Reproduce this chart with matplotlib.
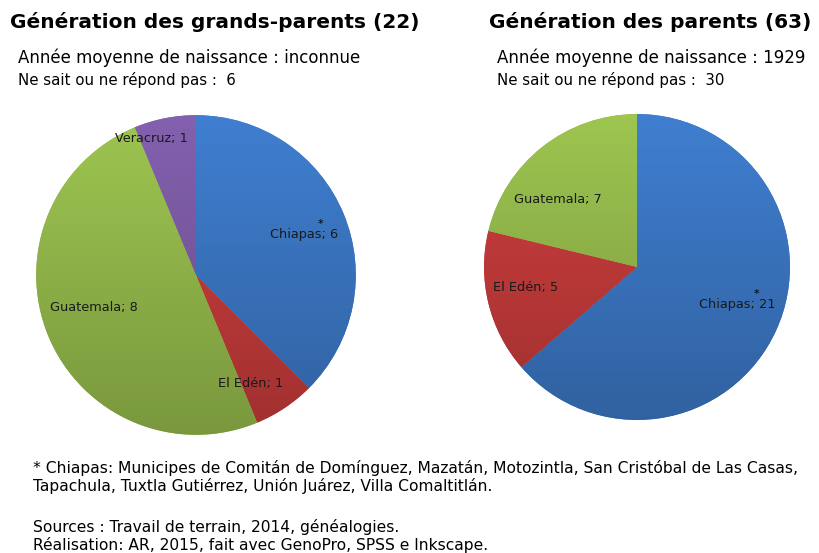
import matplotlib
matplotlib.use("Agg")
import matplotlib.pyplot as plt
import numpy as np
from matplotlib.colors import to_rgb

# Données
lieux_gp = ["Chiapas", "El Edén", "Guatemala", "Veracruz"]
valeurs_gp = [6, 1, 8, 1]
lieux_p = ["Chiapas", "El Edén", "Guatemala"]
valeurs_p = [21, 5, 7]

titre_gp = "Génération des grands-parents (22)"
titre_p = "Génération des parents (63)"
annee_gp = "Année moyenne de naissance : inconnue"
annee_p = "Année moyenne de naissance : 1929"
nsp_gp = "Ne sait ou ne répond pas :  6"
nsp_p = "Ne sait ou ne répond pas :  30"

note = ("* Chiapas: Municipes de Comitán de Domínguez, Mazatán, Motozintla, San Cristóbal de Las Casas,\n"
        "Tapachula, Tuxtla Gutiérrez, Unión Juárez, Villa Comaltitlán.")
sources = ("Sources : Travail de terrain, 2014, généalogies.\n"
           "Réalisation: AR, 2015, fait avec GenoPro, SPSS e Inkscape.")

couleurs = {"Chiapas": "#3b76c2", "El Edén": "#c23b3a",
            "Guatemala": "#93b84b", "Veracruz": "#7b5aa3"}

# position des étiquettes : fraction du rayon, décalage d'angle (degrés)
dist_gp = [0.72, 0.76, 0.67, 0.90]
decal_gp = [-2, -7, -5, 7]
dist_p = [0.70, 0.74, 0.68]
decal_p = [4, -3, 11]


def degrade(ax, wedge, couleur):
    # dégradé vertical : plus clair en haut, plus foncé en bas
    c = np.array(to_rgb(couleur))
    t = np.linspace(1.08, 0.82, 200)[:, None]
    img = np.clip(c[None, None, :] * t[:, :, None], 0, 1)
    img = np.repeat(img, 2, axis=1)
    im = ax.imshow(img, extent=(-1.05, 1.05, -1.05, 1.05), aspect="auto",
                   zorder=wedge.get_zorder(), origin="upper")
    im.set_clip_path(wedge)


def camembert(ax, lieux, valeurs, dist, decal):
    cols = [couleurs[l] for l in lieux]
    wedges, _ = ax.pie(valeurs, colors=cols, startangle=90, counterclock=False,
                       radius=1.0, wedgeprops=dict(linewidth=0))
    for w, l, v, d, da, c in zip(wedges, lieux, valeurs, dist, decal, cols):
        degrade(ax, w, c)
        ang = np.deg2rad((w.theta1 + w.theta2) / 2 + da)
        x, y = d * np.cos(ang), d * np.sin(ang)
        txt = ax.text(x, y, f"{l}; {v}", ha="center", va="center", fontsize=9.3,
                      color="#1a1a1a", zorder=5)
        if l == "Chiapas":
            ax.annotate("*", (0.75, 1.0), xycoords=txt, xytext=(0, 3),
                        textcoords="offset points", ha="center", va="center",
                        fontsize=8, zorder=5)
    ax.set_xlim(-1.02, 1.02)
    ax.set_ylim(-1.02, 1.02)
    ax.set_aspect("equal")
    ax.axis("off")


fig = plt.figure(figsize=(8.19, 5.53), dpi=100)

ax1 = fig.add_axes([(196 - 163) / 819, 1 - (275 + 163) / 553, 326 / 819, 326 / 553])
camembert(ax1, lieux_gp, valeurs_gp, dist_gp, decal_gp)

ax2 = fig.add_axes([(637 - 156) / 819, 1 - (267 + 156) / 553, 312 / 819, 312 / 553])
camembert(ax2, lieux_p, valeurs_p, dist_p, decal_p)

# Titres
fig.text(10 / 819, 1 - 22 / 553, titre_gp, fontsize=14.5, fontweight="bold", va="center")
fig.text(489 / 819, 1 - 22 / 553, titre_p, fontsize=14.5, fontweight="bold", va="center")
fig.text(18 / 819, 1 - 58 / 553, annee_gp, fontsize=12, va="center")
fig.text(497 / 819, 1 - 58 / 553, annee_p, fontsize=12, va="center")
fig.text(18 / 819, 1 - 80 / 553, nsp_gp, fontsize=10.8, va="center")
fig.text(497 / 819, 1 - 80 / 553, nsp_p, fontsize=10.8, va="center")

fig.text(33 / 819, 1 - 477 / 553, note, fontsize=11.2, va="center", linespacing=1.2)
fig.text(33 / 819, 1 - 536 / 553, sources, fontsize=11.2, va="center", linespacing=1.2)

fig.savefig("out.png", dpi=100)
